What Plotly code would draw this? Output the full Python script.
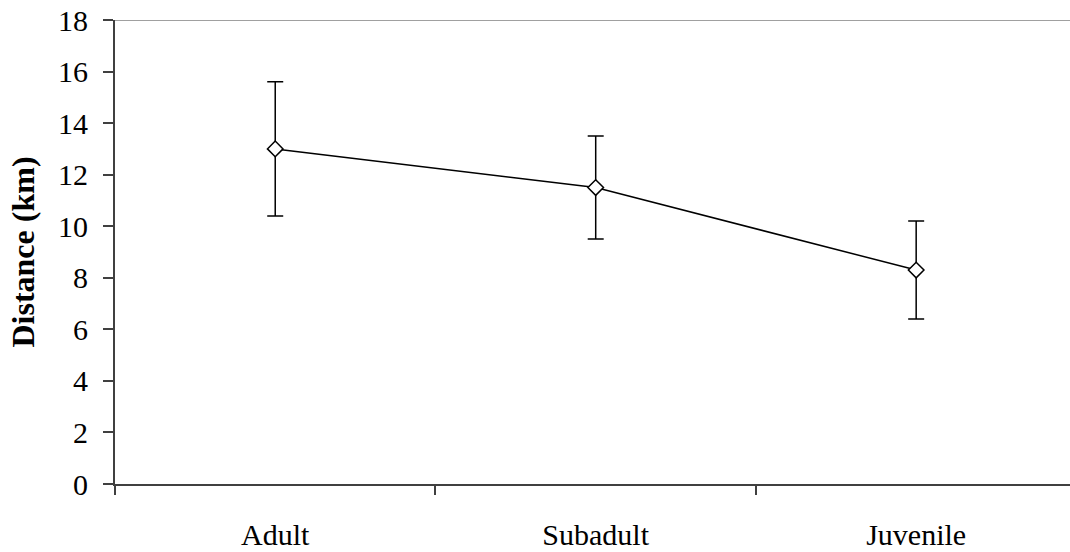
import plotly.graph_objects as go

categories = ["Adult", "Subadult", "Juvenile"]
distance_km = [13.0, 11.5, 8.3]
error_km = [2.6, 2.0, 1.9]
y_ticks = [0, 2, 4, 6, 8, 10, 12, 14, 16, 18]

fig = go.Figure()
fig.add_trace(go.Scatter(
    x=categories, y=distance_km,
    mode="lines+markers",
    line=dict(color="black", width=1.5),
    marker=dict(symbol="diamond", size=12, color="white",
                line=dict(color="black", width=1.5)),
    error_y=dict(type="data", array=error_km, visible=True,
                 color="black", thickness=1.5, width=8),
    showlegend=False,
))

font_family = "Liberation Serif, Times New Roman, serif"

fig.update_layout(
    width=1070, height=552,
    margin=dict(l=115, r=0, t=19.5, b=68),
    paper_bgcolor="white", plot_bgcolor="white",
    font=dict(family=font_family, size=30, color="black"),
    xaxis=dict(
        type="category", range=[-0.5, 2.48],
        showline=True, linecolor="#404040", linewidth=2,
        ticks="outside", ticklen=9, tickwidth=1.5, tickcolor="#404040",
        tickson="boundaries", showgrid=False, zeroline=False,
        ticklabelstandoff=23,
        tickfont=dict(family=font_family, size=30, color="black"),
    ),
    yaxis=dict(
        range=[0, 18], tickvals=y_ticks,
        showline=True, linecolor="#404040", linewidth=2,
        ticks="outside", ticklen=10, tickwidth=1.5, tickcolor="#404040",
        showgrid=False, zeroline=False, ticklabelstandoff=9,
        tickfont=dict(family=font_family, size=30, color="black"),
        title=dict(text="<b>Distance (km)</b>", standoff=14,
                   font=dict(family=font_family, size=32, color="black")),
    ),
    shapes=[dict(type="line", xref="paper", yref="y", x0=0, x1=1, y0=18, y1=18,
                 line=dict(color="#a0a0a0", width=2), layer="below")],
)

fig.write_html(
    "out.html",
    config={"displayModeBar": False},
    post_script="document.body.style.margin='0';document.body.style.overflow='hidden';",
)
